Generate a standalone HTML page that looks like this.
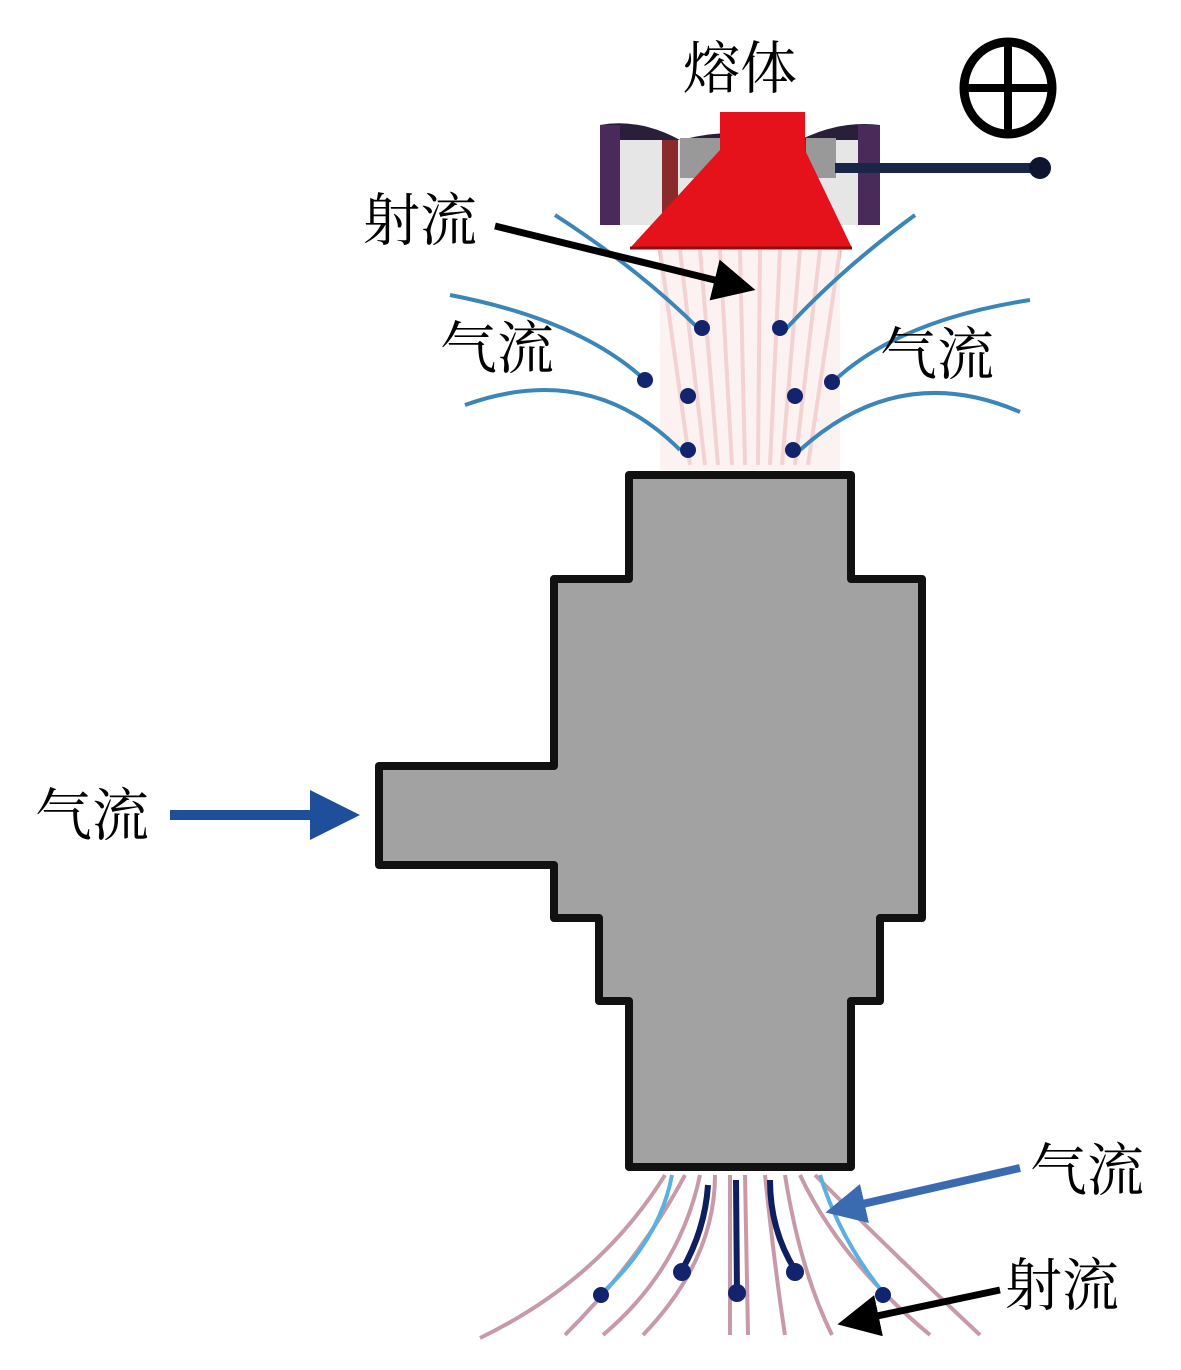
<!DOCTYPE html>
<html><head><meta charset="utf-8"><style>
html,body{margin:0;padding:0;background:#fff;}
svg{display:block;}
text{font-family:"Liberation Serif","Noto Serif CJK SC","Noto Sans CJK SC",serif;fill:#000;}
</style></head><body>
<svg width="1181" height="1370" viewBox="0 0 1181 1370" xmlns="http://www.w3.org/2000/svg">
<defs>
<marker id="ab" markerWidth="6" markerHeight="6" refX="3" refY="3" orient="auto" markerUnits="strokeWidth"><path d="M0,0 L6,3 L0,6 Z" fill="#000"/></marker>
<marker id="abl" markerWidth="5" markerHeight="5" refX="2.5" refY="2.5" orient="auto" markerUnits="strokeWidth"><path d="M0,0 L5,2.5 L0,5 Z" fill="#1f4f9a"/></marker>
<marker id="ab2" markerWidth="5" markerHeight="5" refX="2.5" refY="2.5" orient="auto" markerUnits="strokeWidth"><path d="M0,0 L5,2.5 L0,5 Z" fill="#3a6ab0"/></marker>
</defs>

<g stroke="#e8b8b8" stroke-width="4" fill="none" opacity="0.9">
<path d="M660,250 L690,465"/><path d="M680,250 L705,465"/><path d="M700,250 L718,465"/>
<path d="M720,250 L732,465"/><path d="M740,250 L745,465"/><path d="M760,250 L758,465"/>
<path d="M780,250 L770,465"/><path d="M800,250 L782,465"/><path d="M820,250 L795,465"/>
<path d="M840,250 L808,465"/>
</g>
<rect x="660" y="250" width="180" height="220" fill="#fbe6e6" opacity="0.5"/>
<g stroke="#3a86b8" stroke-width="4" fill="none">
<path d="M555,215 Q640,270 700,330"/>
<path d="M915,215 Q840,270 785,330"/>
<path d="M450,295 Q580,320 645,380"/>
<path d="M1030,300 Q900,320 835,380"/>
<path d="M465,405 Q590,360 680,450"/>
<path d="M1020,412 Q900,360 800,450"/>
</g>
<g fill="#12246e">
<circle cx="702" cy="328" r="8"/><circle cx="780" cy="328" r="8"/>
<circle cx="645" cy="380" r="8"/><circle cx="832" cy="382" r="8"/>
<circle cx="688" cy="396" r="8"/><circle cx="795" cy="396" r="8"/>
<circle cx="688" cy="450" r="8"/><circle cx="793" cy="450" r="8"/>
</g>

<path d="M600,125 Q640,118 680,140 Q740,125 800,140 Q840,120 880,125 L880,225 L858,225 L858,140 L620,140 L620,225 L600,225 Z" fill="#2a1f3a"/>
<rect x="600" y="125" width="20" height="100" fill="#4a2a5a"/>
<rect x="858" y="125" width="22" height="100" fill="#4a2a5a"/>
<rect x="620" y="140" width="238" height="85" fill="#e6e6e6"/>
<rect x="662" y="140" width="16" height="80" fill="#8a2a2a"/>
<rect x="800" y="140" width="16" height="80" fill="#8a2a2a"/>
<rect x="680" y="138" width="40" height="40" fill="#999"/>
<rect x="806" y="138" width="30" height="40" fill="#999"/>
<path d="M720,112 L805,112 L805,150 L852,248 L630,248 L720,150 Z" fill="#e5121b"/>
<line x1="630" y1="248" x2="852" y2="248" stroke="#8a1010" stroke-width="3"/>
<line x1="835" y1="168" x2="1040" y2="168" stroke="#1a2648" stroke-width="10"/>
<circle cx="1040" cy="168" r="11" fill="#0d1530"/>
<ellipse cx="1008" cy="88" rx="44" ry="46" fill="none" stroke="#000" stroke-width="9"/>
<line x1="964" y1="88" x2="1052" y2="88" stroke="#000" stroke-width="8"/>
<line x1="1008" y1="42" x2="1008" y2="134" stroke="#000" stroke-width="8"/>

<path d="M629,475 L851,475 L851,579 L922,579 L922,918 L880,918 L880,1001 L851,1001 L851,1167 L629,1167 L629,1001 L599,1001 L599,918 L554,918 L554,865 L379,865 L379,766 L554,766 L554,579 L629,579 Z" fill="#a2a2a2" stroke="#111" stroke-width="8" stroke-linejoin="round"/>

<g stroke="#c89aa8" stroke-width="4" fill="none">
<path d="M665,1175 Q600,1280 480,1338"/>
<path d="M685,1175 Q640,1260 565,1335"/>
<path d="M700,1175 Q680,1270 603,1335"/>
<path d="M715,1175 Q715,1260 643,1335"/>
<path d="M730,1175 L730,1335"/><path d="M745,1175 L748,1335"/>
<path d="M765,1175 Q775,1270 785,1335"/>
<path d="M785,1175 Q800,1270 832,1335"/>
<path d="M800,1175 Q840,1260 930,1335"/>
<path d="M815,1175 Q900,1260 980,1335"/>
</g>
<g stroke="#5ab0e0" stroke-width="4" fill="none">
<path d="M672,1175 Q660,1240 600,1295"/>
<path d="M820,1175 Q840,1240 885,1295"/>
</g>
<g stroke="#0f1e5e" stroke-width="6" fill="none">
<path d="M708,1185 Q705,1230 682,1270"/>
<path d="M736,1180 L737,1295"/>
<path d="M770,1180 Q770,1230 795,1270"/>
</g>
<g fill="#12246e">
<circle cx="601" cy="1295" r="8"/><circle cx="682" cy="1272" r="9"/>
<circle cx="737" cy="1293" r="9"/><circle cx="795" cy="1272" r="9"/><circle cx="883" cy="1295" r="8"/>
</g>

<line x1="495" y1="226" x2="735" y2="285" stroke="#000" stroke-width="7" marker-end="url(#ab)"/>
<line x1="170" y1="815" x2="335" y2="815" stroke="#1f4f9a" stroke-width="10" marker-end="url(#abl)"/>
<line x1="1020" y1="1168" x2="845" y2="1208" stroke="#3a6ab0" stroke-width="8" marker-end="url(#ab2)"/>
<line x1="1000" y1="1290" x2="858" y2="1320" stroke="#000" stroke-width="7" marker-end="url(#ab)"/>

<text x="683" y="88" font-size="57">熔体</text>
<text x="363" y="240" font-size="57">射流</text>
<text x="440" y="368" font-size="57">气流</text>
<text x="880" y="374" font-size="57">气流</text>
<text x="35" y="835" font-size="57">气流</text>
<text x="1030" y="1190" font-size="57">气流</text>
<text x="1005" y="1305" font-size="57">射流</text>
</svg>
</body></html>
